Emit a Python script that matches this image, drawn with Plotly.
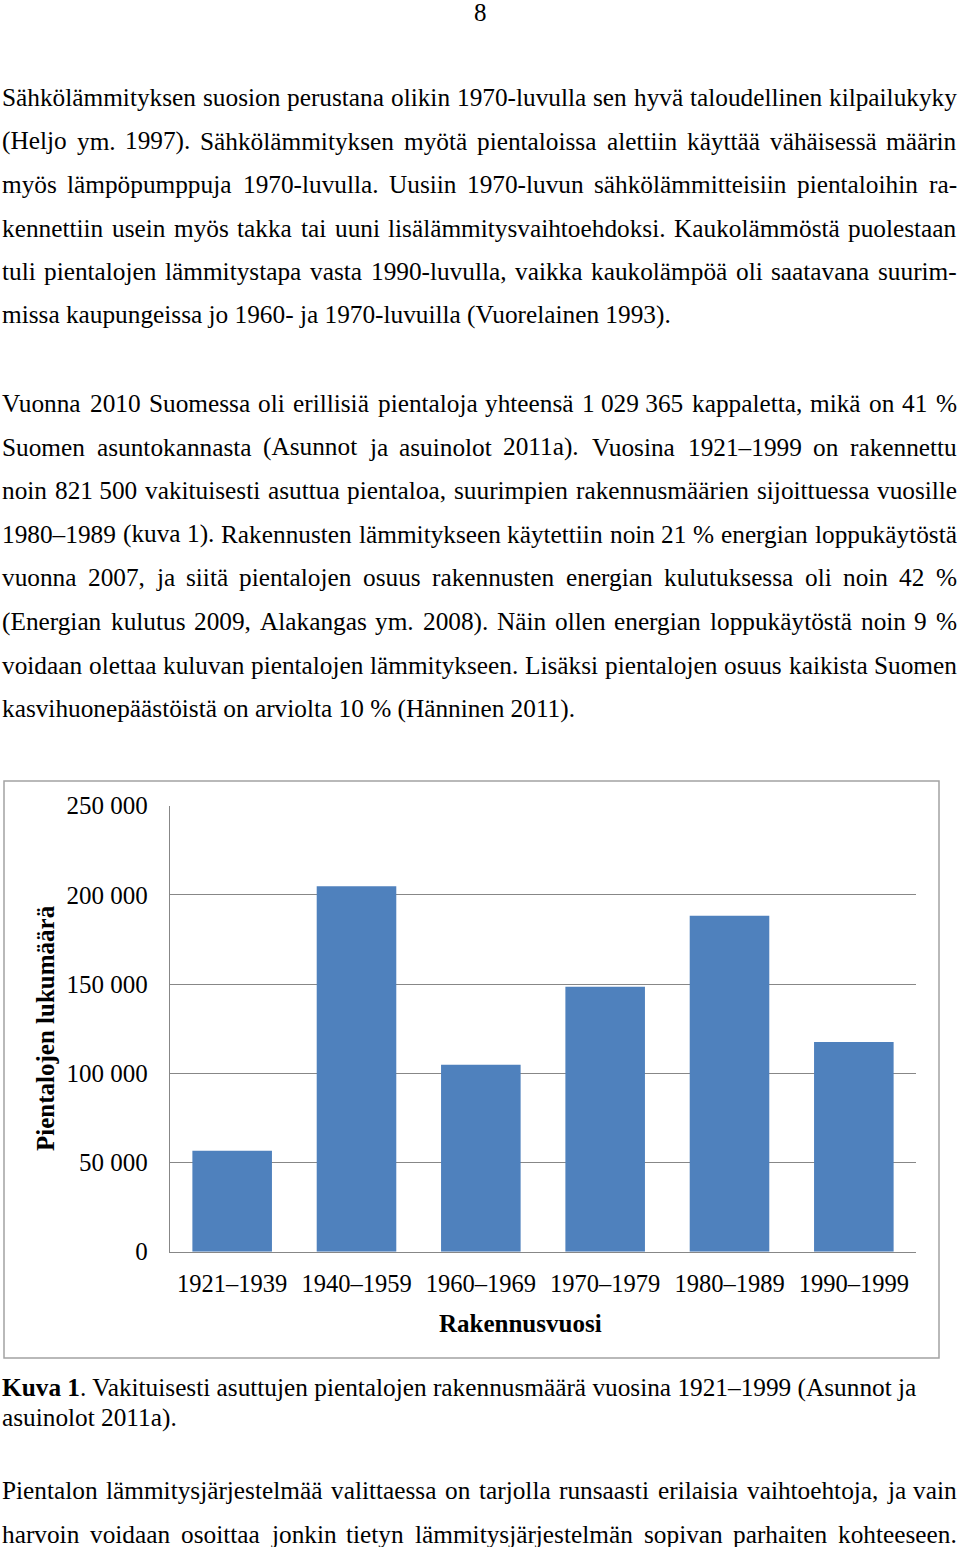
import plotly.graph_objects as go

W, H = 960, 1547
FONT = "Liberation Serif, Times New Roman, serif"
BODY = 25.3
NB = "\u00a0"

# chart data
PERIODS = ["1921–1939", "1940–1959", "1960–1969", "1970–1979", "1980–1989", "1990–1999"]
HOUSES = [56600, 204800, 104800, 148500, 188300, 117500]
Y_TICKS = [0, 50000, 100000, 150000, 200000, 250000]
Y_TITLE = "Pientalojen lukumäärä"
X_TITLE = "Rakennusvuosi"

# page text, one entry per printed line; True = justified line
PARA1 = [
    ("Sähkölämmityksen suosion perustana olikin 1970-luvulla sen hyvä taloudellinen kilpailukyky", True),
    ("(Heljo ym. 1997). Sähkölämmityksen myötä pientaloissa alettiin käyttää vähäisessä määrin", True),
    ("myös lämpöpumppuja 1970-luvulla. Uusiin 1970-luvun sähkölämmitteisiin pientaloihin ra-", True),
    ("kennettiin usein myös takka tai uuni lisälämmitysvaihtoehdoksi. Kaukolämmöstä puolestaan", True),
    ("tuli pientalojen lämmitystapa vasta 1990-luvulla, vaikka kaukolämpöä oli saatavana suurim-", True),
    ("missa kaupungeissa jo 1960- ja 1970-luvuilla (Vuorelainen 1993).", False),
]
PARA2 = [
    (f"Vuonna 2010 Suomessa oli erillisiä pientaloja yhteensä 1{NB}029{NB}365 kappaletta, mikä on 41 %", True),
    ("Suomen asuntokannasta (Asunnot ja asuinolot 2011a). Vuosina 1921–1999 on rakennettu", True),
    (f"noin 821{NB}500 vakituisesti asuttua pientaloa, suurimpien rakennusmäärien sijoittuessa vuosille", True),
    ("1980–1989 (kuva 1). Rakennusten lämmitykseen käytettiin noin 21 % energian loppukäytöstä", True),
    ("vuonna 2007, ja siitä pientalojen osuus rakennusten energian kulutuksessa oli noin 42 %", True),
    ("(Energian kulutus 2009, Alakangas ym. 2008). Näin ollen energian loppukäytöstä noin 9 %", True),
    ("voidaan olettaa kuluvan pientalojen lämmitykseen. Lisäksi pientalojen osuus kaikista Suomen", True),
    ("kasvihuonepäästöistä on arviolta 10 % (Hänninen 2011).", False),
]
CAPTION = [
    "<b>Kuva 1</b>. Vakituisesti asuttujen pientalojen rakennusmäärä vuosina 1921–1999 (Asunnot ja",
    "asuinolot 2011a).",
]
PARA3 = [
    ("Pientalon lämmitysjärjestelmää valittaessa on tarjolla runsaasti erilaisia vaihtoehtoja, ja vain", True),
    ("harvoin voidaan osoittaa jonkin tietyn lämmitysjärjestelmän sopivan parhaiten kohteeseen.", True),
]

# Times advance widths (1/1000 em), used only to spread words on justified lines
_TW = dict(zip("ABCDEFGHIJKLMNOPQRSTUVWXYZ",
               [722, 667, 667, 722, 611, 556, 722, 722, 333, 389, 722, 611, 889,
                722, 722, 556, 722, 667, 556, 611, 722, 722, 944, 722, 722, 611]))
_TW.update(zip("abcdefghijklmnopqrstuvwxyz",
               [444, 500, 444, 500, 444, 333, 500, 500, 278, 278, 500, 278, 778,
                500, 500, 500, 500, 333, 389, 278, 500, 500, 722, 500, 500, 444]))
_TW.update({c: 500 for c in "0123456789"})
_TW.update({"ä": 444, "ö": 500, "Ä": 722, "Ö": 722, " ": 250, NB: 250, ".": 250,
            ",": 250, "-": 333, "–": 500, "(": 333, ")": 333, "%": 833, ":": 278})

LEFT, RIGHT = 2, 957


def px(x):
    return x / W


def py(y):
    return 1 - y / H


def tw(s, size=BODY):
    return sum(_TW.get(c, 500) for c in s) / 1000 * size


def note(text, x, y, anchor="left", size=BODY, **kw):
    return dict(text=text, x=px(x), y=py(y), xref="paper", yref="paper",
                xanchor=anchor, yanchor="middle", showarrow=False,
                borderpad=0, borderwidth=0,
                font=dict(family=FONT, size=size, color="black"), **kw)


def line_notes(text, y, justify):
    if not justify:
        return [note(text, LEFT, y)]
    words = text.split(" ")
    widths = [tw(w) for w in words]
    gap = (RIGHT - LEFT - sum(widths)) / (len(words) - 1)
    out, x = [], LEFT
    for i, (w, wd) in enumerate(zip(words, widths)):
        if i == len(words) - 1:
            out.append(note(w, RIGHT, y, anchor="right"))
        else:
            out.append(note(w, x, y))
        x += wd + gap
    return out


fig = go.Figure(go.Bar(
    x=PERIODS, y=HOUSES, marker=dict(color="#4f81bd", line=dict(width=0)),
    hoverinfo="skip"))

ann = [note("8", 480, 13, anchor="center", size=25)]
for i, (t, j) in enumerate(PARA1):
    ann += line_notes(t, 97 + 43.6 * i, j)
for i, (t, j) in enumerate(PARA2):
    ann += line_notes(t, 403 + 43.6 * i, j)
for i, t in enumerate(CAPTION):
    ann.append(note(t, LEFT, 1387 + 30 * i))
for i, (t, j) in enumerate(PARA3):
    ann += line_notes(t, 1490 + 43.6 * i, j)

ann.append(note(f"<b>{Y_TITLE}</b>", 45, 1028, anchor="center", size=25, textangle=-90))
ann.append(note(f"<b>{X_TITLE}</b>", 520, 1323, anchor="center", size=25))

GRID = "#878787"
fig.update_layout(
    width=W, height=H, margin=dict(l=0, r=0, t=0, b=0, autoexpand=False),
    paper_bgcolor="white", plot_bgcolor="white",
    separators=", ", showlegend=False, bargap=0.36,
    font=dict(family=FONT, size=25, color="black"),
    xaxis=dict(domain=[px(170), px(916)], type="category", showline=True,
               linecolor=GRID, linewidth=1.3, ticks="", showgrid=False,
               tickfont=dict(size=24.5), ticklabelstandoff=10),
    yaxis=dict(domain=[py(1251.7), py(805.7)], range=[0, 250000],
               tickvals=Y_TICKS, tickformat=",d", showgrid=True,
               gridcolor=GRID, gridwidth=1.3, showline=True, linecolor=GRID,
               linewidth=1.3, zeroline=False, ticks="",
               tickfont=dict(size=25), ticklabelstandoff=16),
    annotations=ann,
    shapes=[dict(type="rect", xref="paper", yref="paper",
                 x0=px(4), x1=px(939), y0=py(1358), y1=py(781),
                 line=dict(color="#a3a3a3", width=1.5), layer="below")],
)

fig.write_html("out.html", config={"displayModeBar": False},
               post_script="document.body.style.margin='0';")
